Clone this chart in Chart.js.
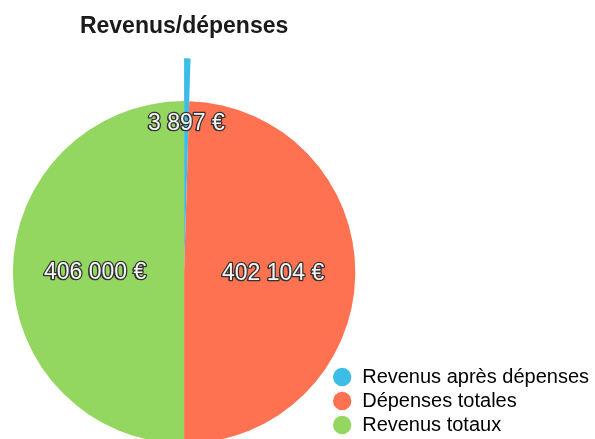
<!DOCTYPE html>
<html>
<head>
<meta charset="utf-8">
<script src="https://cdn.jsdelivr.net/npm/chart.js@4.4.0/dist/chart.umd.min.js"></script>
<style>
  html, body { margin: 0; padding: 0; background: #fff; overflow: hidden; }
  #wrap { width: 595px; height: 439px; }
</style>
</head>
<body>
<div id="wrap"><canvas id="pie" width="595" height="439"></canvas></div>
<script>
const labels = ['Revenus après dépenses', 'Dépenses totales', 'Revenus totaux']
const values = [3897, 402104, 406000]
const colors = ['#3cbde8', '#fe7151', '#93d660']
const none = 'rgba(0,0,0,0)'

function euro(v) {
    return String(v).replace(/\B(?=(\d{3})+(?!\d))/g, ' ') + ' €'
}

// value text drawn inside each slice of the pie (dataset 1), white with a dark outline
const sliceLabels = {
    id: 'sliceLabels',
    afterDatasetsDraw(chart) {
        const ctx = chart.ctx
        const meta = chart.getDatasetMeta(1)
        ctx.save()
        ctx.font = '23px "Liberation Sans", Arial, sans-serif'
        ctx.textAlign = 'center'
        ctx.textBaseline = 'middle'
        ctx.lineJoin = 'round'
        meta.data.forEach((arc, i) => {
            const p = arc.getProps(['x', 'y', 'startAngle', 'endAngle', 'outerRadius', 'circumference'], true)
            const mid = (p.startAngle + p.endAngle) / 2
            const k = p.circumference < 0.3 ? 0.87 : 0.52
            const x = p.x + Math.cos(mid) * p.outerRadius * k
            const y = p.y + Math.sin(mid) * p.outerRadius * k
            const txt = euro(values[i])
            ctx.fillStyle = '#2a2a2a'
            ctx.fillText(txt, x - 1.5, y + 1.5)
            ctx.strokeStyle = '#333'
            ctx.lineWidth = 2.5
            ctx.strokeText(txt, x, y)
            ctx.fillStyle = '#f6f6f6'
            ctx.fillText(txt, x, y)
        })
        ctx.restore()
    }
}

const ctx = document.getElementById('pie').getContext('2d')
const chart = new Chart(ctx, {
    type: 'pie',
    data: {
        labels: labels,
        datasets: [{
            // outer ring: only the small blue slice sticks out of the pie
            data: values,
            backgroundColor: [colors[0], none, none],
            borderWidth: 0,
            weight: 0.25
        }, {
            data: values,
            backgroundColor: colors,
            borderWidth: 0,
            weight: 1
        }]
    },
    options: {
        responsive: false,
        animation: false,
        radius: 214,
        layout: {
            padding: { left: 40, right: -4, top: 0, bottom: 0 }
        },
        plugins: {
            title: {
                display: true,
                text: 'Revenus/dépenses',
                fullSize: false,
                color: '#1a1a1a',
                font: { family: '"Liberation Sans", Arial, sans-serif', size: 23, weight: 'bold' },
                padding: { top: 13, bottom: 65 }
            },
            legend: {
                position: 'right',
                align: 'end',
                labels: {
                    usePointStyle: true,
                    pointStyle: 'circle',
                    boxWidth: 20,
                    boxHeight: 13,
                    padding: 4,
                    color: '#1a1a1a',
                    font: { family: '"Liberation Sans", Arial, sans-serif', size: 20 },
                    generateLabels: (c) => c.data.labels.map((t, i) => ({
                        text: t,
                        fillStyle: colors[i],
                        strokeStyle: colors[i],
                        lineWidth: 0,
                        pointStyle: 'circle',
                        hidden: false,
                        index: i
                    }))
                }
            },
            tooltip: { enabled: false }
        }
    },
    plugins: [sliceLabels]
})
</script>
</body>
</html>
